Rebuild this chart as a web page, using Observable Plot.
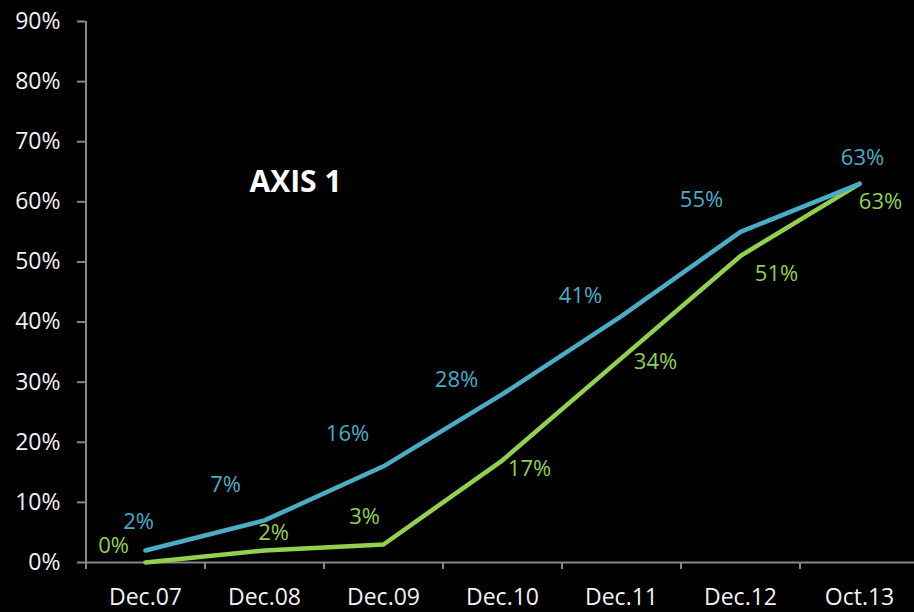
<!DOCTYPE html>
<html><head><meta charset="utf-8">
<script src="https://cdn.jsdelivr.net/npm/d3@7"></script>
<script src="https://cdn.jsdelivr.net/npm/@observablehq/plot@0.6"></script>
<style>html,body{margin:0;padding:0;background:#000;} #chart{width:914px;height:612px;overflow:hidden}</style>
</head><body><div id="chart"></div>
<script>
const categories = ["Dec.07","Dec.08","Dec.09","Dec.10","Dec.11","Dec.12","Oct.13"];
const blueValues = [0.02,0.07,0.16,0.28,0.41,0.55,0.63];
const greenValues = [0.00,0.02,0.03,0.17,0.34,0.51,0.63];
const yTicks = [0,0.1,0.2,0.3,0.4,0.5,0.6,0.7,0.8,0.9];
const annotation = "AXIS 1";

// label placement (style/layout, kept apart from the data)
const blueOffsets = [[-7,-29],[-39,-35],[-36,-32],[-46,-14],[-41,-20],[-39,-32],[3,-26]];
const greenOffsets = [[-32,-17],[9,-18],[-19,-28],[27,9],[34,4],[36,18],[21,18]];

const BLUE = "#4bacc6", GREEN = "#92d050", AXIS = "#888888", TEXT = "#f2f2f2";
const blue = categories.map((c,i)=>({cat:c, v:blueValues[i]}));
const green = categories.map((c,i)=>({cat:c, v:greenValues[i]}));
const pct = d3.format(".0%");

const xLeft = 85, xRight = 918, yTop = 21, yBottom = 562;
const step = (xRight - xLeft) / categories.length;

const labelMarks = (data, offsets, color) => data.map((d,i) => Plot.text([d], {
  x:"cat", y:"v", text: d => pct(d.v), dx: offsets[i][0], dy: offsets[i][1],
  fill: color, fontSize: 22, textAnchor: "middle", lineAnchor: "middle"
}));

const chart = Plot.plot({
  width: 914, height: 612,
  marginLeft: xLeft, marginTop: yTop, marginBottom: 612 - yBottom, marginRight: 0,
  x: {type: "point", domain: categories, range: [xLeft, xRight], padding: 0.5},
  y: {domain: [0, 0.9], range: [yBottom, yTop]},
  style: {background: "#000", color: TEXT, fontFamily: "'Open Sans', sans-serif", fontSize: "23px", overflow: "visible"},
  marks: [
    Plot.axisY({ticks: yTicks, tickFormat: pct, tickSize: 8, tickPadding: 17, stroke: AXIS, strokeWidth: 2, fill: TEXT, fontSize: 23, label: null}),
    Plot.axisX({tickSize: 0, tickPadding: 26, fill: TEXT, fontSize: 23, label: null}),
    Plot.ruleY([0], {stroke: AXIS, strokeWidth: 2}),
    Plot.ruleX(categories, {x: d => d, y1: -0.0117, y2: (d,i) => i === 0 ? 0.9 : 0, dx: -step/2, stroke: AXIS, strokeWidth: 2}),
    Plot.line(green, {x: "cat", y: "v", stroke: GREEN, strokeWidth: 4.5, strokeLinejoin: "round", strokeLinecap: "round"}),
    Plot.line(blue, {x: "cat", y: "v", stroke: BLUE, strokeWidth: 4.5, strokeLinejoin: "round", strokeLinecap: "round"}),
    ...labelMarks(blue, blueOffsets, BLUE),
    ...labelMarks(green, greenOffsets, GREEN),
    Plot.text([annotation], {frameAnchor: "top-left", dx: 210, dy: 161, text: d => d, fill: "#ffffff", fontSize: 30, fontWeight: "bold", textAnchor: "middle", lineAnchor: "middle"})
  ]
});
document.getElementById("chart").appendChild(chart);
</script>
</body></html>
